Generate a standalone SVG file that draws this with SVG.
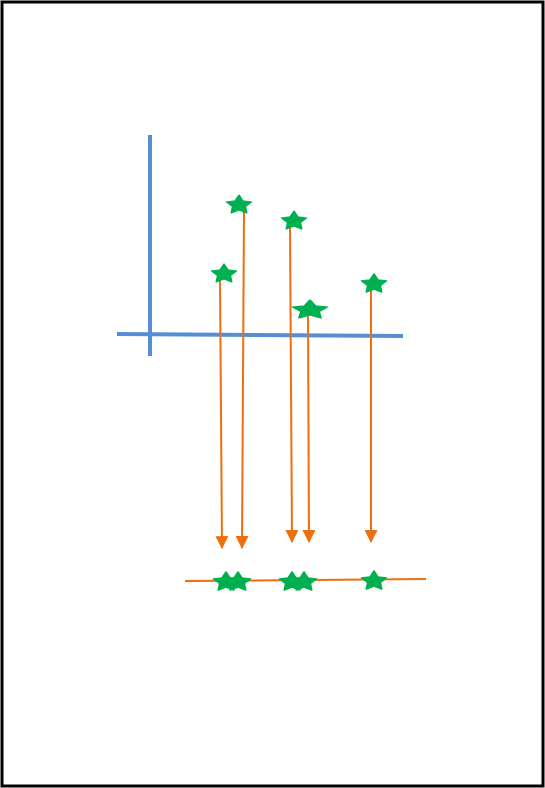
<svg xmlns="http://www.w3.org/2000/svg" width="545" height="788" viewBox="0 0 545 788">
<style>
.axis{stroke:#558ED5;stroke-width:4;fill:none}
.arr{stroke:#EE6F0F;stroke-width:2;fill:none}
.star{fill:#00B050;stroke:#00B050;stroke-width:1.5;stroke-linejoin:round}
</style>
<defs>
<marker id="ah" markerWidth="6.5" markerHeight="6.5" refX="5.5" refY="3" orient="auto" markerUnits="strokeWidth" viewBox="0 0 6 6">
<path d="M0,0 L6,3 L0,6Z" fill="#EE6F0F"/>
</marker>
<path id="st" d="M0,-13 L3.9,-5.35 L12.36,-4.02 L6.3,2.05 L7.64,10.52 L0,6.6 L-7.64,10.52 L-6.3,2.05 L-12.36,-4.02 L-3.9,-5.35Z"/>
</defs>
<rect x="2" y="2" width="541" height="784" fill="#fff" stroke="#000" stroke-width="3"/>
<g id="axes">
<line class="axis" x1="150" y1="135" x2="150" y2="356"/>
<line class="axis" x1="117" y1="334" x2="403" y2="336"/>
</g>
<g id="connectors">
<line class="arr" x1="220" y1="280" x2="222" y2="548" marker-end="url(#ah)"/>
<line class="arr" x1="244" y1="211" x2="242" y2="548" marker-end="url(#ah)"/>
<line class="arr" x1="290" y1="227" x2="292" y2="542" marker-end="url(#ah)"/>
<line class="arr" x1="308" y1="316" x2="309" y2="542" marker-end="url(#ah)"/>
<line class="arr" x1="371" y1="290" x2="371" y2="542" marker-end="url(#ah)"/>
<line class="arr" x1="185" y1="581" x2="426" y2="579"/>
</g>
<g id="star-a"><use href="#st" class="star" transform="translate(224,274) scale(1.02,0.76)"/></g>
<g id="star-b"><use href="#st" class="star" transform="translate(239,205) scale(1.02,0.76)"/></g>
<g id="star-c"><use href="#st" class="star" transform="translate(294,221) scale(1.02,0.76)"/></g>
<g id="star-d"><use href="#st" class="star" transform="translate(310,310) scale(1.42,0.76)"/></g>
<g id="star-e"><use href="#st" class="star" transform="translate(374,284) scale(1.02,0.78)"/></g>
<g id="star-b1"><use href="#st" class="star" transform="translate(226,582) scale(1.02,0.78)"/></g>
<g id="star-b2"><use href="#st" class="star" transform="translate(238,582) scale(1.02,0.78)"/></g>
<g id="star-b3"><use href="#st" class="star" transform="translate(292,582) scale(1.02,0.78)"/></g>
<g id="star-b4"><use href="#st" class="star" transform="translate(304,582) scale(1.02,0.78)"/></g>
<g id="star-b5"><use href="#st" class="star" transform="translate(374,581) scale(1.02,0.78)"/></g>
</svg>
